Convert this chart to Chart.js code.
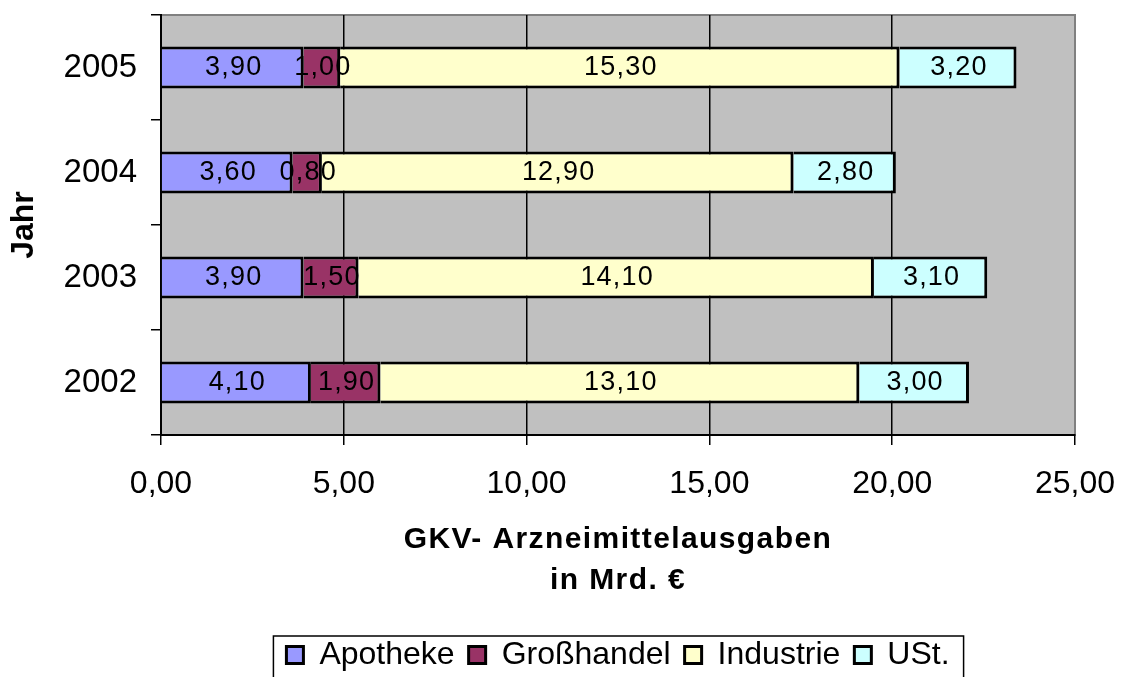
<!DOCTYPE html>
<html>
<head>
<meta charset="utf-8">
<script src="https://cdn.jsdelivr.net/npm/chart.js@4/dist/chart.umd.min.js"></script>
<style>
  html, body { margin: 0; padding: 0; background: #fff; }
  #wrap { width: 1128px; height: 677px; position: relative; }
</style>
</head>
<body>
<div id="wrap"><canvas id="chart"></canvas></div>
<script>
// data (Mrd. Euro)
const years = ["2005", "2004", "2003", "2002"];
const seriesNames = ["Apotheke", "Großhandel", "Industrie", "USt."];
const apotheke = [3.90, 3.60, 3.90, 4.10];
const grosshandel = [1.00, 0.80, 1.50, 1.90];
const industrie = [15.30, 12.90, 14.10, 13.10];
const ust = [3.20, 2.80, 3.10, 3.00];
const xMin = 0;
const xMax = 25;
const xStep = 5;

const colors = ["#9999ff", "#993366", "#ffffcc", "#ccffff"];
const fmt = (v) => Number(v).toFixed(2).replace(".", ",");

Chart.defaults.font.family = '"Liberation Sans", Arial, sans-serif';
Chart.defaults.color = "#000";

// grey plot area with thin grey frame (like Excel)
const plotBackground = {
  id: "plotBackground",
  beforeDraw(chart) {
    const { ctx, chartArea: a } = chart;
    ctx.save();
    ctx.fillStyle = "#c0c0c0";
    ctx.fillRect(a.left, a.top, a.right - a.left, a.bottom - a.top);
    ctx.strokeStyle = "#808080";
    ctx.lineWidth = 2;
    ctx.strokeRect(a.left, a.top, a.right - a.left, a.bottom - a.top);
    ctx.restore();
  }
};

// values written in the middle of each segment
const segmentLabels = {
  id: "segmentLabels",
  afterDatasetsDraw(chart) {
    const { ctx } = chart;
    ctx.save();
    ctx.font = '27px "Liberation Sans", Arial, sans-serif';
    ctx.letterSpacing = "1.2px";
    ctx.fillStyle = "#000";
    ctx.textAlign = "center";
    ctx.textBaseline = "middle";
    chart.data.datasets.forEach((ds, i) => {
      chart.getDatasetMeta(i).data.forEach((bar, j) => {
        ctx.fillText(fmt(ds.data[j]), (bar.x + bar.base) / 2 + 1, bar.y);
      });
    });
    ctx.restore();
  }
};

// frame round the legend
const legendFrame = {
  id: "legendFrame",
  afterDraw(chart) {
    const lg = chart.legend;
    const boxes = lg.legendHitBoxes;
    if (!boxes || !boxes.length) return;
    const last = boxes[boxes.length - 1];
    const left = boxes[0].left - 13;
    const right = last.left + last.width + 14;
    const top = lg.top + 11;
    const { ctx } = chart;
    ctx.save();
    ctx.strokeStyle = "#000";
    ctx.lineWidth = 1.5;
    ctx.strokeRect(left, top, right - left, 100);
    ctx.restore();
  }
};

const seriesData = [apotheke, grosshandel, industrie, ust];

new Chart(document.getElementById("chart"), {
  type: "bar",
  data: {
    labels: years,
    datasets: seriesNames.map((name, i) => ({
      label: name,
      data: seriesData[i],
      backgroundColor: colors[i],
      borderColor: "#000",
      borderWidth: 3,
      barPercentage: 0.4,
      categoryPercentage: 1
    }))
  },
  options: {
    indexAxis: "y",
    responsive: true,
    maintainAspectRatio: false,
    animation: false,
    layout: { padding: { top: 15, right: 53, bottom: -4, left: 0 } },
    plugins: {
      tooltip: { enabled: false },
      legend: {
        position: "bottom",
        fullSize: false,
        labels: {
          font: { size: 32 },
          boxWidth: 17,
          boxHeight: 17,
          padding: 14,
          color: "#000",
          generateLabels: (chart) =>
            Chart.defaults.plugins.legend.labels.generateLabels(chart).map((item) => ({
              ...item,
              lineWidth: 3,
              strokeStyle: "#000"
            }))
        }
      }
    },
    scales: {
      x: {
        stacked: true,
        min: xMin,
        max: xMax,
        ticks: {
          stepSize: xStep,
          font: { size: 32 },
          padding: 20,
          maxRotation: 0,
          callback: (v) => fmt(v)
        },
        grid: {
          color: (c) => (c.tick && c.tick.value === xMax ? "#808080" : "#000"),
          tickColor: "#000",
          lineWidth: 1.5,
          tickLength: 10
        },
        border: { color: "#000", width: 2 },
        title: {
          display: true,
          text: ["GKV- Arzneimittelausgaben", "in Mrd. €"],
          font: { size: 30, weight: "bold", lineHeight: "41px" },
          padding: { top: 0, bottom: 24 },
          color: "#000"
        },
        afterFit: (scale) => {
          scale.height = 190;
          scale.paddingLeft = 0;
          scale.paddingRight = 0;
          if (!scale._spaced) {
            const draw = scale.drawTitle;
            scale.drawTitle = function () {
              this.ctx.save();
              this.ctx.letterSpacing = "1.4px";
              draw.call(this);
              this.ctx.restore();
            };
            scale._spaced = true;
          }
        }
      },
      y: {
        stacked: true,
        ticks: { font: { size: 33 }, padding: 14 },
        grid: {
          offset: true,
          drawOnChartArea: false,
          color: "#000",
          lineWidth: 1.5,
          tickLength: 10
        },
        border: { color: "#000", width: 2 },
        title: {
          display: true,
          text: "Jahr",
          font: { size: 32, weight: "bold" },
          padding: { top: 5, bottom: 0 },
          color: "#000"
        },
        afterFit: (scale) => {
          scale.width = 161;
          scale.paddingTop = 0;
          scale.paddingBottom = 0;
        }
      }
    }
  },
  plugins: [plotBackground, segmentLabels, legendFrame]
});
</script>
</body>
</html>
